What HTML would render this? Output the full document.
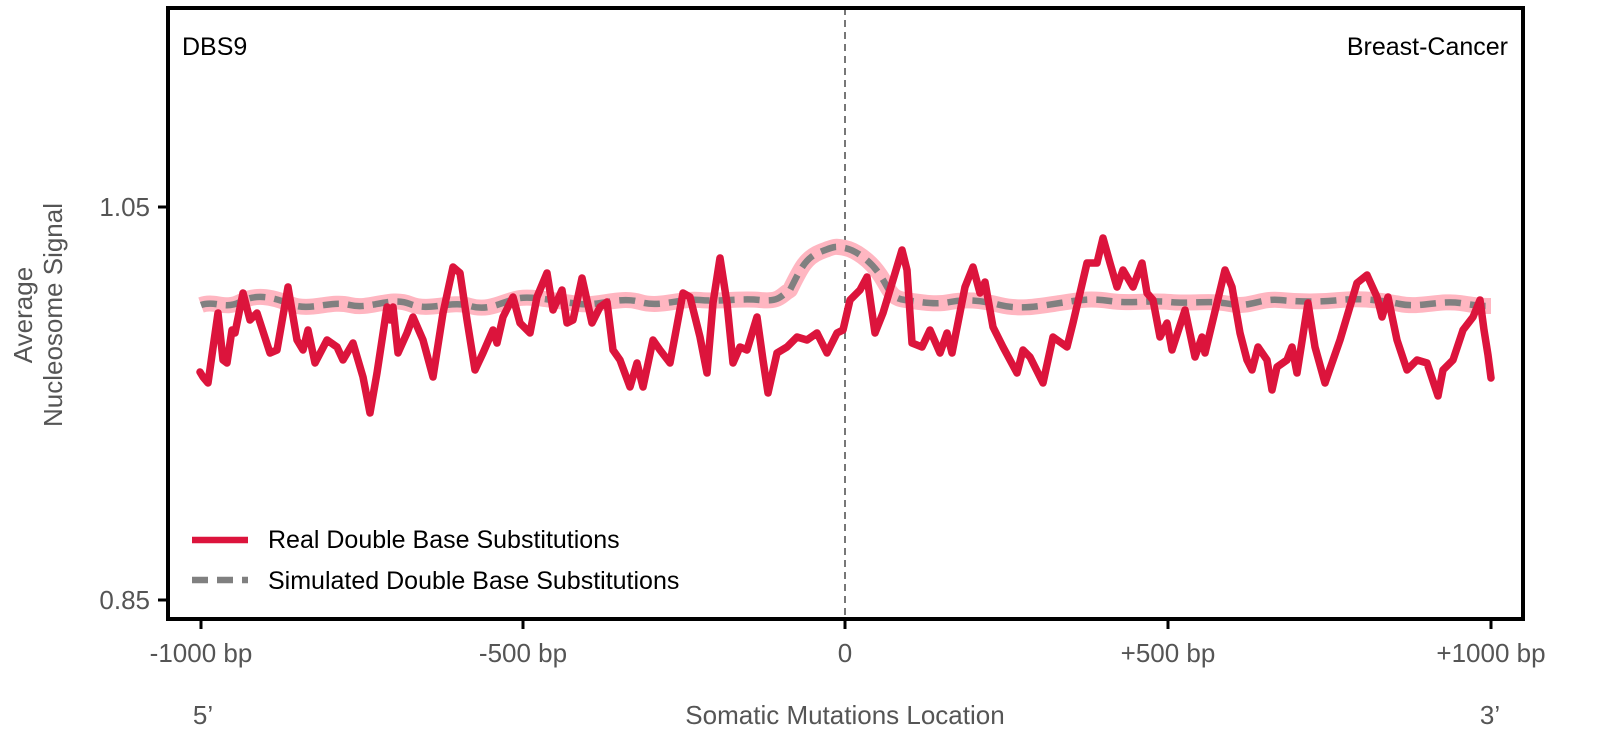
<!DOCTYPE html>
<html><head><meta charset="utf-8"><style>
html,body{margin:0;padding:0;background:#fff;overflow:hidden;width:1603px;height:756px;}
svg{display:block;font-family:"Liberation Sans","DejaVu Sans",sans-serif;}
</style></head><body>
<svg width="1603" height="756" viewBox="0 0 1603 756" xmlns="http://www.w3.org/2000/svg">
<rect width="1603" height="756" fill="#fff"/>
<line x1="845" y1="8" x2="845" y2="619" stroke="#777" stroke-width="2" stroke-dasharray="7,5"/>
<path d="M201,305 C215,300 225,310 240,302 S270,296 290,304 S330,300 350,305 S390,296 410,304 S450,300 470,306 S505,300 520,298 S560,302 580,304 S620,296 640,302 S680,298 700,300 S740,298 760,300 S780,296 790,290 C800,270 805,258 820,252 S835,246 845,248 S870,260 880,275 S890,298 905,300 S935,305 950,302 S980,300 1000,305 S1040,306 1060,303 S1090,298 1110,301 S1150,300 1170,302 S1210,300 1230,304 S1260,298 1280,300 S1320,302 1340,300 S1380,300 1400,304 S1440,300 1460,303 S1480,306 1491,306" fill="none" stroke="#ffb6c1" stroke-width="16" stroke-linejoin="round"/>
<path d="M201,305 C215,300 225,310 240,302 S270,296 290,304 S330,300 350,305 S390,296 410,304 S450,300 470,306 S505,300 520,298 S560,302 580,304 S620,296 640,302 S680,298 700,300 S740,298 760,300 S780,296 790,290 C800,270 805,258 820,252 S835,246 845,248 S870,260 880,275 S890,298 905,300 S935,305 950,302 S980,300 1000,305 S1040,306 1060,303 S1090,298 1110,301 S1150,300 1170,302 S1210,300 1230,304 S1260,298 1280,300 S1320,302 1340,300 S1380,300 1400,304 S1440,300 1460,303 S1480,306 1491,306" fill="none" stroke="#808080" stroke-width="6.5" stroke-dasharray="16,9"/>
<polyline fill="none" stroke="#dc143c" stroke-width="7.5" stroke-linejoin="round" stroke-linecap="round" points="200,372 203,377 208,383 218,313 223,360 227,363 232,330 235,333 243,293 250,320 257,313 270,353 277,350 288,287 297,340 303,350 308,330 315,363 327,340 337,347 343,360 353,343 363,377 370,413 377,373 387,307 390,320 393,307 398,353 407,333 413,317 423,340 433,377 443,313 453,267 460,273 467,320 475,370 483,353 493,330 497,343 503,317 513,297 520,323 530,333 537,297 547,273 553,310 562,290 567,323 573,320 582,278 592,323 600,307 607,302 613,350 620,360 630,387 637,363 643,387 653,340 660,350 670,363 683,293 690,297 700,337 707,373 713,303 720,258 727,303 733,363 740,347 747,350 757,317 763,360 768,393 777,353 787,347 797,337 807,340 817,333 827,353 837,333 843,330 850,300 860,290 867,277 875,333 883,313 893,280 902,250 907,270 912,343 922,347 930,330 940,353 947,333 952,353 965,287 973,267 980,293 985,282 993,327 1003,347 1017,373 1023,350 1030,357 1038,373 1043,383 1053,337 1067,347 1073,323 1087,263 1097,263 1103,238 1110,263 1117,287 1123,270 1133,287 1142,263 1147,293 1153,300 1160,337 1167,323 1172,350 1185,310 1195,357 1202,337 1205,353 1217,303 1225,270 1232,287 1240,333 1247,360 1252,370 1258,347 1267,360 1272,390 1277,367 1287,360 1292,347 1297,373 1308,303 1315,347 1325,383 1340,340 1357,283 1367,275 1377,297 1382,317 1388,297 1397,340 1407,370 1417,360 1427,363 1438,396 1443,370 1453,360 1463,330 1473,317 1480,300 1484,330 1488,355 1491,378"/>
<rect x="168" y="8" width="1355" height="611" fill="none" stroke="#000" stroke-width="4"/>
<g stroke="#000" stroke-width="3">
<line x1="158" y1="207" x2="168" y2="207"/><line x1="158" y1="600" x2="168" y2="600"/>
<line x1="201" y1="619" x2="201" y2="629"/><line x1="523" y1="619" x2="523" y2="629"/><line x1="845" y1="619" x2="845" y2="629"/><line x1="1168" y1="619" x2="1168" y2="629"/><line x1="1491" y1="619" x2="1491" y2="629"/>
</g>
<g fill="#555" font-size="26">
<text x="150" y="216" text-anchor="end">1.05</text>
<text x="150" y="609" text-anchor="end">0.85</text>
<g text-anchor="middle">
<text x="201" y="662">-1000 bp</text><text x="523" y="662">-500 bp</text><text x="845" y="662">0</text><text x="1168" y="662">+500 bp</text><text x="1491" y="662">+1000 bp</text>
<text x="203" y="724">5’</text><text x="845" y="724">Somatic Mutations Location</text><text x="1490" y="724">3’</text>
<text transform="translate(32,315) rotate(-90)">Average</text>
<text transform="translate(62,315) rotate(-90)">Nucleosome Signal</text>
</g></g>
<text x="182" y="55" font-size="25" fill="#000">DBS9</text>
<text x="1508" y="55" font-size="25" fill="#000" text-anchor="end">Breast-Cancer</text>
<line x1="192" y1="540" x2="248" y2="540" stroke="#dc143c" stroke-width="6.5"/>
<line x1="192" y1="580" x2="248" y2="580" stroke="#808080" stroke-width="6.5" stroke-dasharray="16,9"/>
<text x="268" y="548" font-size="25" fill="#000">Real Double Base Substitutions</text>
<text x="268" y="589" font-size="25" fill="#000">Simulated Double Base Substitutions</text>
</svg>
</body></html>
